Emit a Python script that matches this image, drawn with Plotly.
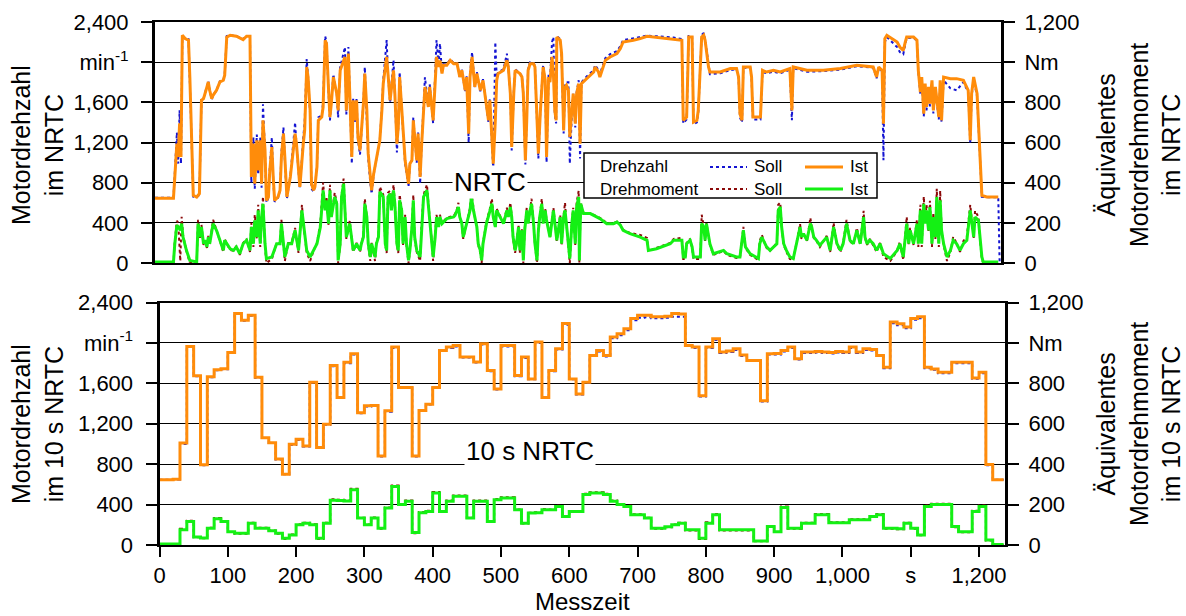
import plotly.graph_objects as go

# ---------------- NRTC, engine speed (min^-1) ----------------
t_nrtc_n = [
    0, 27, 29, 32, 34, 36, 38, 40, 44, 49,
    51, 54, 56, 61, 65, 68, 71, 76, 78, 80,
    83, 85, 90, 95, 100, 102, 105, 110, 119, 129,
    134, 139, 141, 144, 146, 149, 151, 154, 156, 158,
    161, 163, 166, 168, 171, 173, 175, 180, 183, 185,
    188, 190, 193, 198, 202, 205, 207, 212, 217, 219,
    222, 224, 227, 229, 232, 234, 237, 239, 244, 246,
    249, 251, 254, 256, 258, 261, 266, 268, 271, 278,
    280, 283, 285, 288, 290, 293, 295, 297, 300, 305,
    307, 310, 312, 315, 317, 320, 324, 329, 332, 334,
    339, 341, 344, 349, 351, 354, 356, 358, 363, 366,
    371, 373, 376, 378, 380, 383, 385, 388, 390, 393,
    395, 400, 402, 407, 410, 412, 415, 417, 420, 422,
    427, 432, 437, 442, 446, 449, 454, 456, 459, 461,
    464, 468, 471, 476, 480, 485, 488, 490, 493, 495,
    498, 500, 502, 510, 515, 517, 520, 522, 525, 527,
    534, 537, 539, 542, 544, 546, 549, 554, 556, 559,
    561, 564, 568, 571, 573, 576, 578, 581, 583, 585,
    587, 588, 593, 595, 598, 600, 602, 605, 607, 610,
    612, 615, 617, 620, 622, 624, 632, 642, 644, 649,
    651, 659, 666, 676, 681, 685, 700, 710, 720, 739,
    759, 771, 773, 778, 781, 786, 788, 793, 795, 800,
    803, 805, 810, 812, 827, 842, 851, 854, 856, 859,
    861, 871, 873, 875, 886, 889, 895, 905, 915, 929,
    932, 934, 954, 978, 1003, 1027, 1051, 1056, 1059, 1064,
    1066, 1068, 1071, 1081, 1086, 1090, 1095, 1098, 1100, 1110,
    1115, 1117, 1120, 1122, 1125, 1127, 1129, 1132, 1134, 1137,
    1139, 1142, 1144, 1147, 1149, 1151, 1154, 1164, 1173, 1183,
    1190, 1193, 1195, 1198, 1203, 1205, 1208, 1210, 1217, 1234,
    1236,
]
n_ist_nrtc = [
    645, 645, 857, 1190, 1055, 1390, 1055, 2268, 2235, 2218,
    1850, 1020, 674, 657, 690, 1620, 1637, 1753, 1803, 1720,
    1637, 1670, 1720, 1803, 1820, 1870, 2250, 2268, 2258, 2225,
    2258, 2258, 857, 1190, 790, 1222, 923, 1222, 790, 1421,
    1122, 624, 657, 923, 1155, 857, 624, 657, 724, 1055,
    1288, 1055, 657, 857, 1122, 1288, 1189, 757, 1189, 1321,
    1952, 1852, 1520, 790, 724, 757, 956, 1421, 1454, 1553,
    2218, 2185, 1720, 1454, 1587, 1852, 1687, 1520, 1919, 2052,
    1520, 2085, 1687, 1055, 1620, 1421, 1620, 1255, 1122, 1587,
    1886, 1520, 1089, 857, 724, 890, 1055, 1222, 1520, 1786,
    2052, 1852, 1620, 1919, 1687, 1189, 1355, 1852, 1321, 1023,
    790, 989, 1023, 1421, 1255, 1023, 1288, 857, 1155, 1487,
    1753, 1554, 1753, 1421, 1852, 2052, 1952, 2018, 1886, 1969,
    1969, 2018, 1985, 1985, 1852, 1919, 1720, 1852, 1288, 1852,
    2052, 1753, 1886, 1720, 1819, 1587, 1421, 1620, 1189, 989,
    1421, 1819, 1886, 1919, 2018, 1952, 1687, 1155, 1687, 1919,
    1886, 1852, 1687, 1023, 1421, 1919, 1985, 1985, 1952, 1520,
    1089, 1520, 1952, 1820, 1055, 1852, 1800, 2052, 1886, 1520,
    1421, 2251, 2218, 2085, 1321, 1753, 1770, 1720, 1255, 1520,
    1687, 1388, 1687, 1786, 1189, 1786, 1836, 1902, 1952, 1902,
    1852, 2018, 2052, 2085, 2135, 2201, 2218, 2234, 2258, 2244,
    2234, 2218, 1421, 1454, 2251, 2251, 1404, 1421, 1520, 2251,
    2268, 2218, 1952, 1902, 1902, 1936, 1936, 1852, 1487, 1421,
    1952, 1952, 1852, 1454, 1454, 1919, 1902, 1919, 1902, 1936,
    1520, 1952, 1919, 1919, 1936, 1969, 1952, 1852, 1952, 1919,
    1388, 2234, 2268, 2218, 2201, 2151, 2118, 2201, 2251, 2251,
    2218, 1919, 1703, 1852, 1487, 1786, 1554, 1753, 1587, 1819,
    1520, 1753, 1653, 1454, 1819, 1421, 1852, 1836, 1836, 1819,
    1720, 1222, 1687, 1852, 1687, 1355, 1023, 674, 657, 657,
    None,
]
n_soll_nrtc = [
    650, 650, 900, 1300, 990, 1520, 990, 2250, 2240, 2230,
    1800, 950, 660, 655, 680, 1640, 1640, 1760, 1810, 1720,
    1630, 1670, 1720, 1810, 1820, 1880, 2260, 2270, 2260, 2230,
    2260, 2260, 800, 1250, 740, 1280, 880, 1250, 750, 1580,
    1100, 600, 650, 950, 1250, 820, 610, 650, 720, 1100,
    1350, 1020, 640, 860, 1150, 1400, 1180, 740, 1250, 1400,
    2030, 1860, 1480, 740, 710, 760, 960, 1450, 1470, 1600,
    2260, 2200, 1700, 1420, 1600, 1880, 1680, 1450, 1950, 2150,
    1480, 2150, 1690, 990, 1640, 1400, 1640, 1220, 1080, 1600,
    1950, 1500, 1040, 800, 690, 880, 1050, 1230, 1540, 1820,
    2220, 1870, 1600, 2020, 1690, 1100, 1350, 1900, 1300, 990,
    760, 990, 1020, 1450, 1250, 1000, 1300, 790, 1160, 1520,
    1850, 1560, 1780, 1390, 1900, 2220, 1960, 2185, 1890, 1980,
    1975, 2030, 1990, 1990, 1850, 1930, 1700, 1860, 1200, 1880,
    2100, 1750, 1900, 1710, 1830, 1580, 1400, 1630, 1150, 920,
    2200, 1850, 1900, 1930, 2085, 1960, 1680, 1120, 1700, 1930,
    1890, 1860, 1680, 980, 1450, 1950, 2000, 1990, 1960, 1500,
    1040, 1540, 1970, 1800, 1000, 1880, 1820, 2200, 2250, 1480,
    1390, 2260, 2230, 2060, 1290, 1780, 1800, 1800, 990, 1480,
    1690, 1350, 1700, 1820, 1040, 1800, 1860, 1920, 1970, 1920,
    1880, 2040, 2080, 2110, 2160, 2220, 2235, 2250, 2265, 2255,
    2245, 2230, 1390, 1430, 2260, 2260, 1380, 1400, 1500, 2270,
    2290, 2230, 1940, 1880, 1890, 1920, 1930, 1840, 1450, 1400,
    1945, 1945, 1840, 1430, 1430, 1900, 1890, 1905, 1890, 1925,
    1421, 1940, 1905, 1910, 1925, 1960, 1945, 1840, 1940, 1910,
    1023, 2200, 2250, 2180, 2150, 2100, 2080, 2180, 2240, 2245,
    2210, 1900, 1680, 1820, 1460, 1760, 1520, 1730, 1560, 1790,
    1490, 1720, 1620, 1430, 1790, 1400, 1820, 1740, 1720, 1800,
    1700, 1189, 1660, 1830, 1660, 1330, 1000, 660, 655, 655,
    0,
]

# ---------------- NRTC, equivalent engine torque (Nm) ----------------
t_nrtc_md = [
    0, 27, 29, 32, 34, 37, 39, 41, 46, 51,
    61, 63, 66, 68, 71, 73, 76, 78, 80, 83,
    85, 90, 95, 100, 102, 105, 110, 115, 119, 124,
    129, 134, 139, 141, 144, 146, 149, 151, 154, 156,
    158, 161, 163, 171, 178, 183, 185, 188, 190, 195,
    200, 205, 210, 215, 217, 222, 227, 232, 237, 242,
    246, 249, 251, 254, 256, 258, 263, 266, 268, 271,
    273, 276, 278, 280, 285, 290, 295, 300, 302, 305,
    307, 310, 312, 315, 317, 320, 322, 324, 327, 329,
    334, 337, 339, 341, 344, 346, 349, 351, 354, 356,
    358, 361, 363, 366, 368, 371, 373, 376, 378, 380,
    383, 388, 390, 393, 398, 400, 402, 405, 407, 410,
    412, 415, 417, 420, 427, 437, 439, 442, 444, 446,
    449, 451, 454, 456, 461, 463, 466, 468, 471, 473,
    476, 478, 480, 485, 490, 493, 495, 498, 500, 505,
    510, 515, 517, 520, 522, 524, 527, 529, 532, 534,
    537, 539, 541, 544, 546, 549, 551, 554, 556, 559,
    561, 563, 566, 568, 571, 573, 578, 583, 588, 593,
    595, 598, 600, 602, 605, 607, 610, 612, 615, 617,
    620, 621, 623, 627, 637, 642, 651, 661, 671, 676,
    681, 685, 695, 710, 720, 722, 734, 754, 759, 771,
    773, 776, 778, 783, 786, 788, 798, 800, 803, 805,
    807, 812, 817, 832, 837, 851, 856, 859, 861, 864,
    871, 883, 885, 888, 895, 900, 910, 912, 915, 917,
    920, 924, 929, 934, 939, 944, 946, 949, 954, 959,
    961, 964, 968, 973, 983, 988, 993, 998, 1003, 1007,
    1012, 1017, 1022, 1027, 1032, 1037, 1039, 1042, 1046, 1051,
    1056, 1061, 1066, 1076, 1086, 1090, 1095, 1100, 1103, 1105,
    1110, 1115, 1117, 1120, 1122, 1125, 1127, 1129, 1132, 1134,
    1137, 1139, 1142, 1144, 1147, 1149, 1151, 1154, 1159, 1164,
    1168, 1173, 1178, 1183, 1188, 1193, 1198, 1200, 1205, 1208,
    1210, 1212, 1234,
]
md_ist_nrtc = [
    5, 5, 96, 188, 179, 163, 196, 129, 63, 13,
    5, 196, 129, 179, 96, 113, 80, 129, 96, 163,
    196, 163, 113, 63, 113, 96, 71, 63, 80, 46,
    96, 113, 63, 179, 96, 212, 129, 262, 96, 229,
    295, 96, 22, 30, 96, 96, 196, 96, 30, 96,
    96, 163, 63, 262, 196, 63, 30, 63, 96, 179,
    362, 262, 312, 196, 362, 229, 329, 295, 13, 96,
    329, 395, 262, 129, 196, 63, 96, 63, 96, 129,
    295, 229, 96, 30, 96, 63, 30, 96, 129, 354,
    329, 96, 63, 329, 345, 262, 362, 295, 96, 63,
    312, 262, 96, 229, 96, 13, 63, 179, 312, 129,
    63, 30, 179, 329, 362, 295, 229, 113, 30, 129,
    229, 179, 229, 196, 221, 229, 237, 262, 279, 229,
    196, 129, 163, 196, 262, 329, 262, 229, 179, 96,
    63, 13, 96, 196, 262, 295, 229, 179, 262, 229,
    196, 262, 229, 279, 229, 129, 63, 96, 179, 63,
    163, 13, 163, 262, 196, 262, 295, 196, 96, 13,
    163, 229, 295, 196, 262, 212, 129, 262, 113, 229,
    96, 229, 262, 196, 63, 22, 196, 262, 96, 279,
    329, 13, 295, 246, 246, 237, 221, 196, 196, 204,
    188, 163, 146, 129, 113, 63, 71, 96, 113, 113,
    30, 30, 96, 113, 80, 30, 30, 196, 179, 113,
    196, 96, 46, 63, 46, 30, 30, 113, 163, 80,
    46, 22, 96, 129, 80, 63, 96, 262, 279, 179,
    96, 63, 30, 22, 96, 179, 129, 146, 113, 196,
    179, 129, 113, 88, 129, 63, 179, 96, 63, 96,
    196, 113, 96, 163, 96, 229, 129, 96, 113, 96,
    63, 96, 46, 22, 63, 96, 30, 196, 96, 163,
    96, 196, 96, 262, 96, 295, 196, 262, 163, 279,
    96, 229, 129, 329, 96, 312, 163, 96, 30, 63,
    113, 96, 63, 96, 113, 262, 129, 229, 212, 96,
    30, 5, 5,
]
md_soll_nrtc = [
    0, 0, 110, 210, 200, 10, 230, 140, 60, 0,
    0, 215, 120, 190, 90, 110, 75, 135, 90, 170,
    215, 165, 110, 55, 120, 95, 65, 60, 85, 40,
    100, 120, 55, 200, 80, 240, 120, 290, 80, 250,
    330, 80, 0, 20, 100, 100, 215, 90, 10, 100,
    100, 175, 50, 290, 200, 50, 10, 60, 100, 200,
    400, 270, 330, 190, 390, 230, 350, 300, 0, 90,
    340, 420, 270, 120, 210, 55, 100, 55, 100, 135,
    320, 230, 90, 10, 100, 55, 10, 100, 135, 380,
    340, 90, 50, 350, 360, 270, 390, 300, 90, 50,
    340, 270, 90, 240, 90, 0, 55, 185, 340, 120,
    55, 10, 185, 340, 390, 300, 230, 110, 10, 135,
    240, 180, 240, 200, 225, 235, 245, 270, 300, 230,
    200, 120, 165, 200, 275, 350, 265, 230, 180, 90,
    50, 0, 100, 205, 270, 320, 235, 175, 270, 235,
    200, 275, 235, 300, 235, 120, 50, 100, 190, 50,
    170, 0, 170, 275, 200, 270, 320, 200, 90, 0,
    170, 235, 320, 200, 270, 215, 125, 275, 110, 240,
    90, 240, 300, 200, 50, 0, 205, 275, 90, 300,
    360, 0, 300, 250, 248, 240, 225, 200, 198, 206,
    190, 165, 150, 140, 125, 60, 75, 100, 120, 125,
    20, 20, 100, 120, 75, 20, 20, 240, 185, 110,
    200, 90, 40, 60, 40, 25, 25, 130, 180, 75,
    40, 15, 110, 140, 75, 60, 100, 290, 300, 180,
    90, 55, 20, 15, 110, 195, 120, 150, 110, 225,
    180, 125, 110, 80, 135, 55, 200, 90, 55, 100,
    215, 110, 90, 175, 90, 260, 125, 90, 120, 90,
    55, 100, 30, 10, 60, 105, 15, 230, 90, 175,
    90, 215, 80, 290, 80, 330, 200, 290, 160, 310,
    80, 250, 120, 370, 80, 360, 170, 90, 10, 55,
    130, 100, 55, 110, 130, 290, 125, 260, 230, 90,
    20, 0, 0,
]

# ---------------- 10 s NRTC (10 s mean values, step start times) ----------------
t_10s = list(range(0, 1240, 10)) + [1236]
n_ist_10s = [
    647, 645, 650, 1010, 1965, 1675, 795, 1665, 1735, 1745,
    1905, 2290, 2225, 2275, 1660, 1062, 1013, 850, 700, 996,
    1046, 980, 1610, 965, 1195, 1776, 1461, 1809, 1892, 1310,
    1378, 1380, 880, 1328, 1959, 1560, 1560, 880, 1330, 1394,
    1560, 1926, 1959, 1975, 1860, 1860, 1810, 1992, 1726, 1544,
    1975, 1975, 1677, 1860, 1643, 2009, 1461, 1726, 1942, 2191,
    1643, 1494, 1610, 1876, 1926, 1876, 2058, 2091, 2141, 2241,
    2274, 2274, 2258, 2258, 2265, 2291, 2285, 1975, 1960, 1477,
    1959, 2042, 1909, 1920, 1942, 1880, 1826, 1826, 1428, 1892,
    1895, 1926, 1959, 1843, 1909, 1909, 1915, 1910, 1905, 1915,
    1909, 1959, 1909, 1942, 1935, 1876, 1760, 2208, 2190, 2158,
    2241, 2258, 1760, 1743, 1710, 1710, 1809, 1809, 1809, 1653,
    1710, 797, 647, 647,
    647,
]
n_soll_10s = [
    645, 645, 648, 1000, 1960, 1670, 790, 1660, 1730, 1740,
    1900, 2285, 2220, 2270, 1655, 1060, 1010, 845, 700, 990,
    1040, 975, 1605, 960, 1190, 1770, 1455, 1800, 1885, 1305,
    1370, 1375, 875, 1320, 1950, 1555, 1555, 875, 1325, 1390,
    1555, 1920, 1950, 1965, 1855, 1855, 1805, 1985, 1720, 1540,
    1965, 1965, 1670, 1850, 1640, 2000, 1455, 1720, 1935, 2180,
    1640, 1490, 1605, 1870, 1915, 1865, 2045, 2075, 2125, 2225,
    2250, 2255, 2245, 2245, 2250, 2260, 2260, 1970, 1950, 1470,
    1950, 2030, 1900, 1910, 1930, 1870, 1820, 1820, 1420, 1885,
    1885, 1915, 1950, 1835, 1900, 1900, 1905, 1900, 1895, 1905,
    1900, 1950, 1900, 1930, 1925, 1870, 1750, 2195, 2175, 2145,
    2230, 2245, 1750, 1735, 1700, 1700, 1800, 1800, 1800, 1645,
    1700, 790, 645, 645,
    645,
]
md_ist_10s = [
    5, 5, 5, 75, 116, 40, 35, 83, 130, 116,
    66, 58, 58, 108, 83, 83, 70, 58, 33, 50,
    100, 108, 100, 33, 108, 222, 220, 218, 274, 133,
    100, 133, 83, 183, 290, 200, 216, 62, 160, 166,
    257, 166, 216, 241, 241, 133, 216, 216, 116, 224,
    232, 232, 174, 108, 158, 160, 175, 174, 191, 141,
    166, 166, 250, 257, 257, 250, 216, 200, 191, 150,
    150, 133, 83, 83, 90, 100, 108, 75, 75, 33,
    108, 150, 75, 75, 75, 75, 75, 20, 20, 91,
    66, 186, 83, 83, 108, 108, 150, 150, 110, 110,
    110, 125, 125, 125, 141, 150, 83, 83, 80, 108,
    83, 50, 191, 200, 200, 200, 91, 66, 66, 166,
    191, 25, 3, 3,
    3,
]
md_soll_10s = [
    3, 3, 3, 80, 120, 38, 33, 85, 133, 118,
    64, 56, 56, 110, 85, 85, 72, 56, 30, 52,
    103, 110, 103, 30, 110, 226, 224, 222, 278, 135,
    102, 136, 80, 186, 295, 203, 220, 58, 163, 169,
    262, 168, 220, 245, 245, 135, 220, 220, 118, 228,
    236, 236, 176, 106, 160, 162, 178, 176, 194, 143,
    168, 168, 254, 261, 261, 254, 220, 203, 194, 152,
    152, 135, 80, 80, 88, 102, 110, 72, 72, 30,
    112, 153, 72, 72, 72, 72, 72, 18, 18, 94,
    64, 190, 80, 80, 110, 110, 153, 153, 112, 112,
    112, 128, 128, 128, 144, 153, 80, 80, 78, 110,
    80, 48, 195, 204, 204, 204, 88, 63, 63, 170,
    195, 22, 0, 0,
    0,
]

# ---------------- axis tick labels ----------------
speed_tickvals = [0, 400, 800, 1200, 1600, 2000, 2400]
speed_ticktext = ["0", "400", "800", "1,200", "1,600", "min<sup>-1</sup>", "2,400"]
torque_tickvals = [0, 200, 400, 600, 800, 1000, 1200]
torque_ticktext = ["0", "200", "400", "600", "800", "Nm", "1,200"]
time_tickvals = [0, 100, 200, 300, 400, 500, 600, 700, 800, 900, 1000, 1100, 1200]
time_ticktext = ["0", "100", "200", "300", "400", "500", "600", "700", "800",
                 "900", "1,000", "s", "1,200"]

# ---------------- styling ----------------
W, H = 1186, 616
FONT = "Liberation Sans, Arial, sans-serif"
C_N_SOLL = "#1414d2"
C_N_IST = "#ff8c0a"
C_MD_SOLL = "#8c0a0a"
C_MD_IST = "#14f014"


def px(x):
    return x / W


def py(y):
    return 1 - y / H


fig = go.Figure()

# NRTC panel
fig.add_trace(go.Scatter(x=t_nrtc_n, y=n_soll_nrtc, mode="lines", xaxis="x", yaxis="y",
                         line=dict(color=C_N_SOLL, width=2, dash="dot"), hoverinfo="skip"))
fig.add_trace(go.Scatter(x=t_nrtc_n, y=n_ist_nrtc, mode="lines", xaxis="x", yaxis="y",
                         line=dict(color=C_N_IST, width=3), hoverinfo="skip"))
fig.add_trace(go.Scatter(x=t_nrtc_md, y=md_soll_nrtc, mode="lines", xaxis="x", yaxis="y2",
                         line=dict(color=C_MD_SOLL, width=2, dash="dot"), hoverinfo="skip"))
fig.add_trace(go.Scatter(x=t_nrtc_md, y=md_ist_nrtc, mode="lines", xaxis="x", yaxis="y2",
                         line=dict(color=C_MD_IST, width=3), hoverinfo="skip"))

# 10 s NRTC panel
fig.add_trace(go.Scatter(x=t_10s, y=n_soll_10s, mode="lines", xaxis="x2", yaxis="y3",
                         line=dict(color=C_N_SOLL, width=2, dash="dot", shape="hv"), hoverinfo="skip"))
fig.add_trace(go.Scatter(x=t_10s, y=n_ist_10s, mode="lines", xaxis="x2", yaxis="y3",
                         line=dict(color=C_N_IST, width=3, shape="hv"), hoverinfo="skip"))
fig.add_trace(go.Scatter(x=t_10s, y=md_soll_10s, mode="lines", xaxis="x2", yaxis="y4",
                         line=dict(color=C_MD_SOLL, width=2, dash="dot", shape="hv"), hoverinfo="skip"))
fig.add_trace(go.Scatter(x=t_10s, y=md_ist_10s, mode="lines", xaxis="x2", yaxis="y4",
                         line=dict(color=C_MD_IST, width=3, shape="hv"), hoverinfo="skip"))

tick_font = dict(family=FONT, size=22, color="black")


def x_axis(domain, anchor, labels):
    ax = dict(domain=domain, anchor=anchor, range=[0, 1238], showgrid=False, zeroline=False,
              showline=True, linecolor="black", linewidth=2, mirror=True, automargin=False,
              tickvals=time_tickvals, ticktext=time_ticktext, tickfont=tick_font)
    if labels:
        ax.update(ticks="outside", ticklen=10, tickwidth=2, tickcolor="black", showticklabels=True)
    else:
        ax.update(ticks="", showticklabels=False)
    return ax


def left_axis(domain, anchor):
    return dict(domain=domain, anchor=anchor, range=[0, 2400], tickvals=speed_tickvals,
                ticktext=speed_ticktext, tickfont=tick_font, ticks="outside", ticklen=11,
                tickwidth=2, tickcolor="black", showline=True, linecolor="black", linewidth=3,
                showgrid=True, gridcolor="black", gridwidth=1, zeroline=False, automargin=False,
                ticklabelstandoff=8)


def right_axis(base, anchor):
    return dict(overlaying=base, anchor=anchor, side="right", range=[0, 1200],
                tickvals=torque_tickvals, ticktext=torque_ticktext, tickfont=tick_font,
                ticks="outside", ticklen=11, tickwidth=2, tickcolor="black", showline=True,
                linecolor="black", linewidth=3, showgrid=False, zeroline=False, automargin=False,
                ticklabelstandoff=5)


fig.update_layout(
    width=W, height=H, margin=dict(l=0, r=0, t=0, b=0, autoexpand=False),
    paper_bgcolor="white", plot_bgcolor="white", showlegend=False,
    font=dict(family=FONT, color="black"),
    xaxis=x_axis([px(155), px(1001)], "y", False),
    yaxis=left_axis([py(263), py(22)], "x"),
    yaxis2=right_axis("y", "x"),
    xaxis2=x_axis([px(159.5), px(1005)], "y3", True),
    yaxis3=left_axis([py(545), py(302.5)], "x2"),
    yaxis4=right_axis("y3", "x2"),
)

title_font = dict(family=FONT, size=25, color="black")
ann = [
    # left axis titles
    dict(x=px(37), y=py(145), text="Motordrehzahl<br>im NRTC", textangle=-90, font=title_font),
    dict(x=px(37), y=py(424), text="Motordrehzahl<br>im 10 s NRTC", textangle=-90, font=title_font),
    # right axis titles
    dict(x=px(1138), y=py(145), text="Äquivalentes<br>Motordrehmoment<br>im NRTC",
         textangle=-90, font=title_font),
    dict(x=px(1138), y=py(424), text="Äquivalentes<br>Motordrehmoment<br>im 10 s NRTC",
         textangle=-90, font=title_font),
    # x axis title
    dict(x=px(582), y=py(601), text="Messzeit", borderpad=0,
         font=dict(family=FONT, size=24, color="black")),
    # panel labels on the 800 gridline
    dict(x=px(490), y=py(182), text="NRTC", bgcolor="white", borderpad=1,
         font=dict(family=FONT, size=26, color="black")),
    dict(x=px(530), y=py(451), text="10 s NRTC", bgcolor="white", borderpad=1,
         font=dict(family=FONT, size=26, color="black")),
]
for a in ann:
    a.update(xref="paper", yref="paper", showarrow=False, xanchor="center", yanchor="middle")

# legend block
leg_font = dict(family=FONT, size=17, color="black")
row1, row2 = 167, 189
for txt, xx, yy in [("Drehzahl", 598, row1), ("Drehmoment", 598, row2),
                    ("Soll", 752, row1), ("Soll", 752, row2),
                    ("Ist", 848, row1), ("Ist", 848, row2)]:
    ann.append(dict(x=px(xx), y=py(yy), text=txt, xref="paper", yref="paper", showarrow=False,
                    xanchor="left", yanchor="middle", font=leg_font))

shapes = [
    dict(type="rect", xref="paper", yref="paper", x0=px(584), x1=px(877), y0=py(198), y1=py(153),
         fillcolor="white", line=dict(color="black", width=1.5), layer="above"),
    dict(type="line", xref="paper", yref="paper", x0=px(710), x1=px(747), y0=py(row1), y1=py(row1),
         line=dict(color=C_N_SOLL, width=2, dash="dot"), layer="above"),
    dict(type="line", xref="paper", yref="paper", x0=px(710), x1=px(747), y0=py(row2), y1=py(row2),
         line=dict(color=C_MD_SOLL, width=2, dash="dot"), layer="above"),
    dict(type="line", xref="paper", yref="paper", x0=px(805), x1=px(843), y0=py(row1), y1=py(row1),
         line=dict(color=C_N_IST, width=3), layer="above"),
    dict(type="line", xref="paper", yref="paper", x0=px(805), x1=px(843), y0=py(row2), y1=py(row2),
         line=dict(color=C_MD_IST, width=3), layer="above"),
]

fig.update_layout(annotations=ann, shapes=shapes)
fig.write_html("out.html")
